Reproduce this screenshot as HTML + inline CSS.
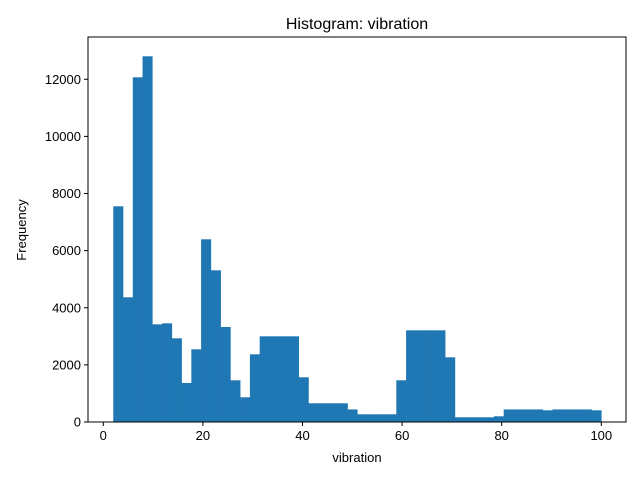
<!DOCTYPE html>
<html><head><meta charset="utf-8"><style>body{margin:0;background:#fff}svg{display:block;font-family:"Liberation Sans","DejaVu Sans",sans-serif}</style></head>
<body>
<svg id="chart" width="640" height="480">
<rect width="640" height="480" fill="#fff"/>
<text x="357" y="29" font-size="16" text-anchor="middle">Histogram: vibration</text>
<g id="bars"></g>
<g id="axes"></g>
<text x="357" y="462" font-size="13" text-anchor="middle">vibration</text>
<text transform="translate(26,230) rotate(-90)" font-size="13" text-anchor="middle">Frequency</text>
</svg>
<script>
const binStart = 2.0;
const binWidth = 1.96;
const counts = [7553,4366,12070,12805,3420,3455,2930,1366,2545,6397,5312,3326,1460,865,2370,3000,3000,3000,3000,1565,655,655,655,655,440,270,270,270,270,1460,3210,3210,3210,3210,2265,165,165,165,165,200,440,440,440,440,410,440,440,440,440,410];
const xTicks = [0,20,40,60,80,100];
const yTicks = [0,2000,4000,6000,8000,10000,12000];
const L=88,R=626,T=37,B=422;
const sx=v=>103.3+v*4.98;
const sy=v=>B-v*0.02856;
const NS="http://www.w3.org/2000/svg";
const bars=document.getElementById('bars'),axes=document.getElementById('axes');
counts.forEach((c,i)=>{
  const x0=sx(binStart+i*binWidth),x1=sx(binStart+(i+1)*binWidth);
  const r=document.createElementNS(NS,'rect');
  r.setAttribute('x',x0);r.setAttribute('width',x1-x0+0.3);
  r.setAttribute('y',sy(c));r.setAttribute('height',B-sy(c));
  r.setAttribute('fill','#1f77b4');
  
  
  bars.appendChild(r);
});
const frame=document.createElementNS(NS,'rect');
frame.setAttribute('x',L);frame.setAttribute('y',T);frame.setAttribute('width',R-L);frame.setAttribute('height',B-T);
frame.setAttribute('fill','none');frame.setAttribute('stroke','#000');frame.setAttribute('stroke-width','1');


axes.appendChild(frame);
xTicks.forEach(v=>{
  const x=sx(v);
  const l=document.createElementNS(NS,'line');
  l.setAttribute('x1',x);l.setAttribute('x2',x);l.setAttribute('y1',B);l.setAttribute('y2',B+4);l.setAttribute('stroke','#000');
  
  
  axes.appendChild(l);
  const t=document.createElementNS(NS,'text');
  t.setAttribute('x',x);t.setAttribute('y',B+18);t.setAttribute('font-size','13');t.setAttribute('text-anchor','middle');
  t.textContent=v;
  
  
  axes.appendChild(t);
});
yTicks.forEach(v=>{
  const y=sy(v);
  const l=document.createElementNS(NS,'line');
  l.setAttribute('x1',L-4);l.setAttribute('x2',L);l.setAttribute('y1',y);l.setAttribute('y2',y);l.setAttribute('stroke','#000');
  
  
  axes.appendChild(l);
  const t=document.createElementNS(NS,'text');
  t.setAttribute('x',L-7);t.setAttribute('y',y+4.5);t.setAttribute('font-size','13');t.setAttribute('text-anchor','end');
  t.textContent=v;
  
  
  axes.appendChild(t);
});
</script>
</body></html>
